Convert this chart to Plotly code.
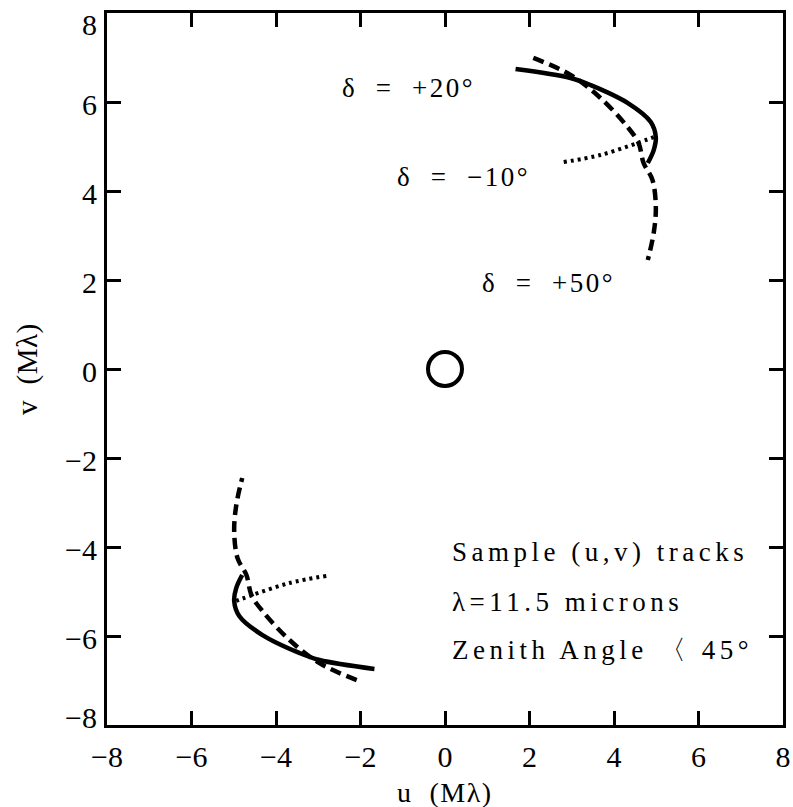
import plotly.graph_objects as go

# Upper-half tracks (lower half is the conjugate: -u, -v)
u_p20 = [1.67, 2.97, 3.45, 4.32, 4.87, 4.99, 4.94, 4.80]
v_p20 = [6.74, 6.54, 6.38, 5.98, 5.55, 5.21, 4.92, 4.63]

u_p50 = [2.09, 2.97, 3.68, 4.32, 4.58, 4.70, 4.91, 4.99, 4.94, 4.80]
v_p50 = [6.99, 6.61, 6.09, 5.44, 5.08, 4.63, 4.25, 3.64, 3.06, 2.45]

u_m10 = [2.81, 3.68, 4.56, 4.94]
v_m10 = [4.65, 4.81, 5.08, 5.21]

center_u = [0]
center_v = [0]

labels = ["δ  =  +20°", "δ  =  −10°", "δ  =  +50°"]
label_u = [-2.48, -1.18, 0.84]
label_v = [6.31, 4.31, 1.93]

info_lines = ["Sample (u,v) tracks", "λ=11.5 microns", "Zenith Angle 〈 45°"]
info_u = 0.13
info_v = [-4.11, -5.24, -6.31]

tickvals = [-8, -6, -4, -2, 0, 2, 4, 6, 8]
ticktext = ["−8", "−6", "−4", "−2", "0", "2", "4", "6", "8"]

FONT = "Liberation Serif"

fig = go.Figure()

def add_track(u, v, dash, width):
    for sgn in (1, -1):
        fig.add_trace(go.Scatter(
            x=[sgn * a for a in u], y=[sgn * b for b in v],
            mode="lines", line=dict(color="black", width=width, dash=dash, shape="spline"),
            showlegend=False, hoverinfo="skip"))

add_track(u_p20, v_p20, "solid", 4.5)
add_track(u_p50, v_p50, "11px,6px", 4.5)
add_track(u_m10, v_m10, "3px,4px", 4)

fig.add_trace(go.Scatter(
    x=center_u, y=center_v, mode="markers",
    marker=dict(symbol="circle-open", size=34, color="black", line=dict(width=4, color="black")),
    showlegend=False, hoverinfo="skip"))

def spaced(t, px):
    return f'<span style="letter-spacing:{px}px">{t}</span>'

for t, a, b in zip(labels, label_u, label_v):
    fig.add_annotation(x=a, y=b, text=spaced(t, 2.5), showarrow=False, xanchor="left", yanchor="middle",
                       font=dict(family=FONT, size=27, color="black"))

for t, b in zip(info_lines, info_v):
    fig.add_annotation(x=info_u, y=b, text=spaced(t, 4.5), showarrow=False, xanchor="left", yanchor="middle",
                       font=dict(family=FONT, size=27, color="black"))

axis_common = dict(
    range=[-8, 8], tickvals=tickvals, ticktext=ticktext, ticks="inside", ticklen=14, tickwidth=3,
    tickcolor="black", showline=True, linecolor="black", linewidth=3, mirror="ticks",
    showgrid=False, zeroline=False, automargin=False, ticklabeloverflow="allow",
    tickfont=dict(family=FONT, size=30, color="black"),
)

fig.update_xaxes(**axis_common, ticklabelstandoff=3)
fig.update_yaxes(**axis_common, showticklabels=False)

# y tick labels: end labels pulled inside the frame as in the original
for val, txt in zip(tickvals, ticktext):
    shift = -2
    if val == tickvals[-1]:
        shift = -11
    elif val == tickvals[0]:
        shift = 8
    fig.add_annotation(xref="paper", x=0, y=val, xshift=-8, yshift=shift, text=txt, showarrow=False,
                       xanchor="right", yanchor="middle",
                       font=dict(family=FONT, size=30, color="black"))

fig.add_annotation(xref="paper", yref="paper", x=0.5, y=0, yshift=-67, text=spaced("u  (Mλ)", 1.5),
                   showarrow=False, xanchor="center", yanchor="middle",
                   font=dict(family=FONT, size=28, color="black"))
fig.add_annotation(xref="paper", yref="paper", x=0, y=0.5, xshift=-80, text=spaced("v  (Mλ)", 0.5),
                   showarrow=False, textangle=-90, xanchor="center", yanchor="middle",
                   font=dict(family=FONT, size=29, color="black"))

fig.update_layout(
    width=793, height=807,
    margin=dict(l=107, r=10, t=13, b=82, autoexpand=False),
    plot_bgcolor="white", paper_bgcolor="white",
)

fig.write_html("out.html", config={"displayModeBar": False},
               post_script="document.body.style.margin='0px';")
